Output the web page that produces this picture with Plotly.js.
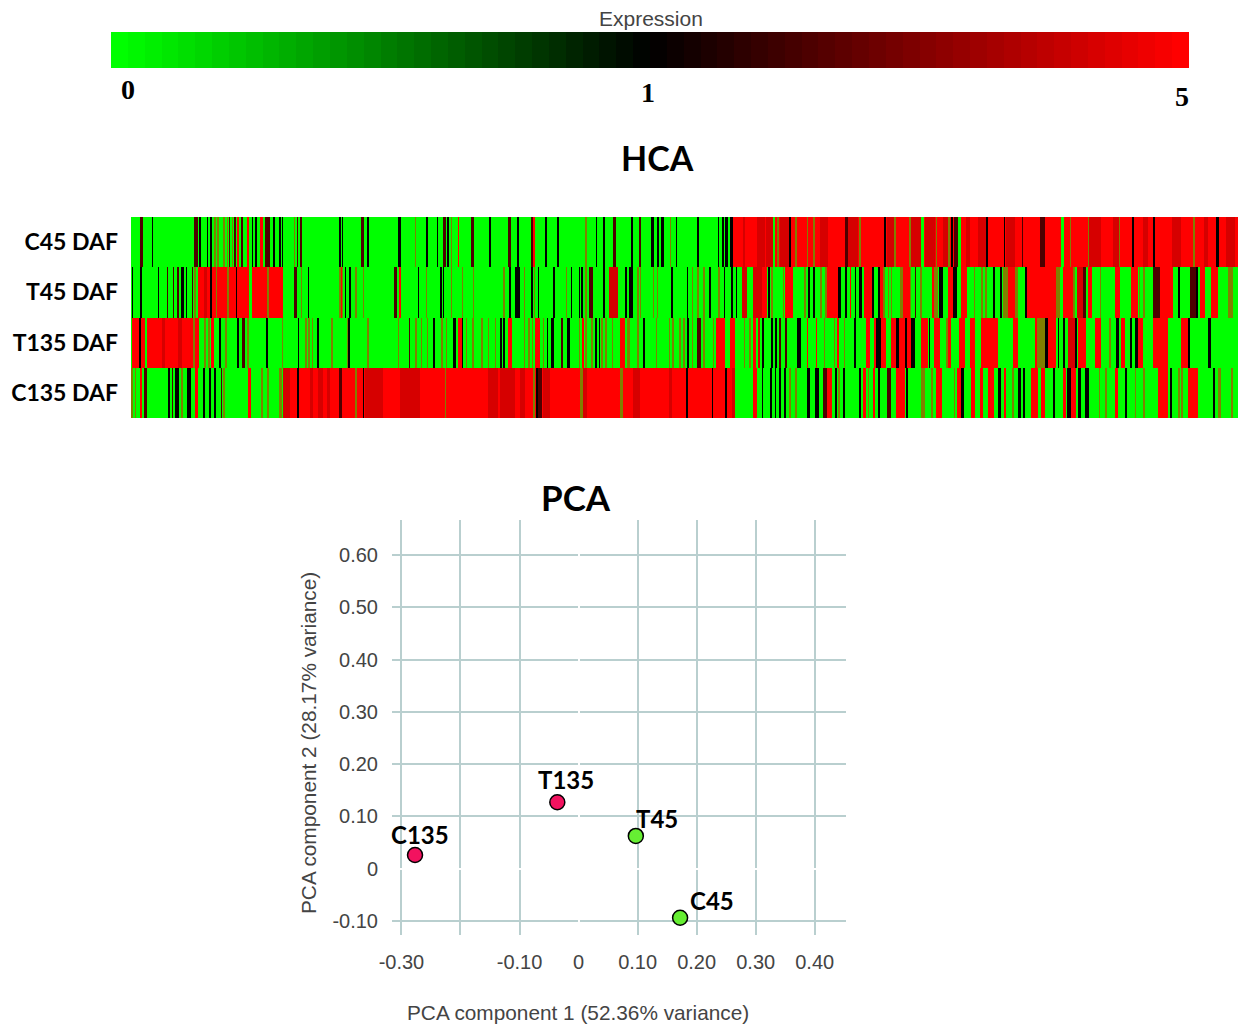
<!DOCTYPE html>
<html><head><meta charset="utf-8">
<script src="https://cdn.plot.ly/plotly-3.0.1.min.js"></script>
<style>html,body{margin:0;padding:0;background:#fff}#c{width:1238px;height:1025px}</style>
</head><body><div id="c"></div>
<script>
// expression levels: G green, K black, D near black, M dark red, R red, O olive (unresolved red/green column)
const G=-1,K=0,D=0.3,M=0.84,R=1,O=2;
const rowLabels=['C45 DAF','T45 DAF','T135 DAF','C135 DAF'];
const nGenes=1107;
// stripes [from,to,level], in thirds of a gene column, per section of the heat map
const c45A=[[30,38,D],[66,70,K],[192,203,D],[208,212,K],[230,235,K],[241,247,K],[252,258,O],[262,266,O],[280,284,O],[290,294,O],[296,300,D],[305,310,O],[312,318,D],[322,328,R],[332,338,D],[350,358,R],[365,370,K],[375,382,K],[390,398,R],[404,420,D],[430,436,K],[448,452,K],[456,460,K],[492,496,O],[500,504,D],[510,515,D],[628,632,K],[636,640,K],[694,702,D],[712,716,K],[805,813,K],[855,858,O],[888,893,K],[920,925,K],[940,948,D],[952,957,K],[962,966,O],[984,988,R],[1024,1032,D],[1078,1082,K]];
const t45A=[[6,10,K],[30,35,K],[84,88,K],[110,114,D],[128,132,D],[142,146,D],[153,163,K],[168,172,K],[185,190,D],[192,198,O],[205,460,R],[222,230,M],[240,245,K],[258,262,O],[292,298,O],[318,322,K],[358,365,G],[412,416,O],[493,502,D],[512,516,O],[533,537,K],[628,632,O],[632,636,R],[636,640,O],[645,649,K],[658,662,K],[675,680,O],[698,702,O],[792,802,D],[808,812,R],[864,868,K],[888,892,O],[930,935,K],[938,943,K],[962,966,O],[996,1000,O],[1028,1032,O]];
const t135A=[[6,28,R],[28,34,K],[34,44,R],[52,190,R],[95,105,M],[145,155,M],[190,196,O],[196,208,R],[222,228,O],[234,240,O],[244,252,R],[266,272,K],[285,290,O],[320,326,K],[336,346,D],[352,358,O],[408,414,K],[455,459,O],[503,507,K],[525,530,O],[535,540,O],[545,550,O],[560,568,K],[604,608,O],[650,655,O],[655,660,K],[712,716,O],[803,807,O],[836,840,D],[855,860,O],[872,876,O],[890,894,O],[908,916,K],[932,938,O],[948,952,O],[970,978,K],[984,996,R],[996,1000,K],[1008,1012,O],[1026,1032,O],[1054,1058,O],[1074,1078,O],[1094,1098,O]];
const c135A=[[3,10,O],[14,18,O],[30,36,R],[42,50,D],[114,120,K],[126,130,D],[136,146,K],[154,160,O],[170,184,K],[194,204,R],[220,226,K],[238,244,K],[252,258,K],[272,276,D],[278,284,O],[355,362,R],[392,398,O],[412,418,O],[448,455,O],[460,1110,R],[460,480,M],[500,506,K],[540,548,M],[564,580,M],[590,600,M],[628,636,D],[676,680,O],[698,703,K],[705,760,M],[810,870,M],[945,948,O],[1075,1105,M]];
const c45B=[[25,32,D],[52,56,K],[92,98,D],[98,106,R],[136,140,K],[172,176,K],[256,260,O],[288,292,K],[310,314,K],[338,348,D],[394,398,K],[418,424,D],[452,462,K],[472,478,K],[484,492,K],[510,514,O],[528,532,K],[592,596,K],[655,658,K],[666,672,K],[676,684,K],[690,700,K],[700,1110,R],[730,735,M],[770,795,M],[798,818,M],[820,826,G],[832,838,O],[840,868,M],[868,872,K],[885,890,O],[920,925,O],[940,945,O],[960,985,M],[1036,1045,D],[1045,1075,M],[1078,1082,O]];
const t45B=[[10,14,O],[28,32,K],[46,60,K],[72,76,O],[94,100,K],[102,106,O],[114,118,K],[160,164,K],[198,202,O],[212,216,K],[236,240,K],[242,250,K],[256,260,O],[268,278,D],[310,316,K],[328,354,M],[376,380,K],[386,392,K],[394,398,K],[412,416,O],[420,424,O],[458,462,O],[470,474,O],[512,518,K],[560,564,K],[576,580,O],[592,596,O],[610,614,O],[628,632,K],[655,660,O],[672,676,K],[692,700,K],[708,712,K],[726,740,M],[760,785,M],[785,800,R],[805,810,K],[812,820,O],[850,853,O],[855,880,R],[912,918,O],[924,930,K],[940,945,K],[960,965,O],[975,980,O],[980,1015,R],[1015,1022,K],[1036,1040,K],[1050,1054,R],[1065,1068,K],[1078,1085,K],[1092,1110,R]];
const t135B=[[0,6,K],[10,14,K],[24,36,R],[72,76,O],[84,90,O],[96,100,O],[104,120,R],[128,132,O],[140,144,K],[154,162,K],[184,190,D],[200,210,K],[236,240,O],[246,252,R],[256,260,O],[274,278,O],[284,290,K],[296,300,K],[304,310,O],[316,320,O],[336,340,O],[360,376,R],[380,390,O],[412,416,O],[428,434,K],[468,472,O],[506,510,O],[516,522,O],[538,542,O],[550,554,O],[560,566,K],[576,580,O],[592,602,D],[610,614,O],[638,642,O],[648,674,R],[690,706,R],[732,736,O],[748,752,O],[760,768,R],[774,780,M],[786,792,K],[812,818,K],[826,832,K],[838,844,D],[855,862,D],[892,902,K],[920,925,R],[948,952,R],[972,976,O],[1002,1006,O],[1012,1018,R],[1032,1036,O],[1063,1068,K],[1098,1110,R]];
const c135B=[[0,705,R],[0,45,M],[60,75,M],[100,105,O],[108,114,K],[114,126,D],[130,150,M],[240,248,O],[250,260,M],[360,368,O],[400,420,M],[508,516,M],[558,564,K],[636,640,K],[675,680,K],[695,705,M],[760,770,R],[785,790,K],[810,816,K],[824,828,K],[838,842,K],[852,858,K],[868,872,O],[884,890,O],[922,930,K],[944,956,K],[968,980,D],[980,995,R],[1005,1010,K],[1015,1020,O],[1028,1034,K],[1078,1082,K],[1088,1098,R]];
const c45C=[[0,1110,R],[47,55,K],[58,78,M],[78,84,O],[124,130,O],[130,158,M],[160,168,G],[170,200,M],[204,208,O],[225,240,M],[240,245,O],[250,256,K],[258,270,D],[270,280,G],[295,305,M],[330,355,M],[355,360,K],[408,412,K],[415,440,M],[462,466,D],[516,530,D],[578,588,G],[606,610,O],[660,664,O],[664,700,M],[734,752,M],[752,757,O],[792,797,K],[825,840,M],[855,860,K],[912,940,M],[975,980,O],[1008,1020,M],[1044,1052,K],[1075,1100,M]];
const t45C=[[0,12,R],[12,18,K],[30,35,K],[35,45,R],[45,50,O],[60,64,O],[68,72,O],[96,104,O],[104,125,R],[125,130,O],[140,145,D],[155,163,O],[192,198,R],[198,210,O],[212,226,K],[240,255,R],[256,268,K],[280,296,R],[318,322,O],[340,345,O],[352,356,O],[375,382,K],[395,402,K],[405,420,O],[420,440,R],[440,450,O],[472,476,K],[476,565,R],[565,575,O],[586,615,R],[615,622,O],[628,645,M],[645,655,D],[660,672,R],[695,700,O],[740,755,R],[790,810,R],[812,816,O],[824,830,O],[855,875,D],[875,915,R],[930,936,K],[965,985,D],[985,990,K],[995,1010,R],[1030,1050,R],[1080,1095,O]];
const t135C=[[0,5,R],[18,25,R],[25,40,K],[40,55,R],[68,85,R],[85,92,K],[92,110,R],[112,118,K],[118,130,R],[130,140,K],[160,180,R],[182,186,K],[198,215,R],[235,240,O],[240,248,R],[272,290,R],[306,322,R],[340,390,R],[436,450,R],[500,506,R],[506,515,O],[515,530,O],[530,540,K],[540,565,R],[570,574,K],[585,592,K],[600,620,M],[620,626,K],[630,655,R],[680,700,R],[722,730,O],[745,752,K],[760,772,R],[786,792,K],[800,810,K],[810,826,R],[856,900,R],[938,960,R],[960,966,K],[1020,1028,K]];
const c135C=[[0,4,O],[16,22,R],[30,36,K],[58,70,D],[85,110,R],[114,120,K],[160,172,O],[188,196,O],[205,222,R],[258,262,O],[268,280,R],[280,288,K],[310,320,R],[335,345,R],[360,378,R],[390,400,K],[408,415,R],[432,438,O],[450,460,K],[465,470,K],[490,510,R],[520,530,R],[555,560,K],[585,595,R],[598,608,K],[610,625,R],[630,640,K],[650,662,K],[692,696,O],[712,716,O],[740,750,R],[770,778,K],[800,805,O],[825,830,O],[870,900,R],[905,912,K],[930,935,O],[940,945,O],[960,990,R],[1036,1042,K],[1050,1060,O],[1090,1095,O]];
const sectionStarts=[-3,1107,2211];
const rowsStripes=[[c45A,c45B,c45C],[t45A,t45B,t45C],[t135A,t135B,t135C],[c135A,c135B,c135C]];

const pcLabels=['C135','T135','T45','C45'];
const pc1=[-0.277,-0.036,0.097,0.172];
const pc2=[0.026,0.127,0.0625,-0.094];
const pcColors=['#f2125f','#f2125f','#66ee33','#66ee33'];
const pcLabelShift=[[5,21],[9,23],[21,17],[32,17]];
const pcXTicks=[-0.3,-0.2,-0.1,0,0.1,0.2,0.3,0.4];
const pcXText=['-0.30','','-0.10','0','0.10','0.20','0.30','0.40'];
const pcYTicks=[-0.1,0,0.1,0.2,0.3,0.4,0.5,0.6];
const pcYText=['-0.10','0','0.10','0.20','0.30','0.40','0.50','0.60'];
const legendSteps=64;

const z=rowsStripes.map(sections=>{
  const row=new Array(nGenes).fill(G);
  sections.forEach((list,s)=>list.forEach(([a,b,v])=>{
    const i0=Math.max(0,Math.round((a+sectionStarts[s])/3));
    const i1=Math.min(nGenes,Math.max(i0+1,Math.round((b+sectionStarts[s])/3)));
    for(let i=i0;i<i1;i++)row[i]=v;
  }));
  return row;
});
const legendZ=[Array.from({length:legendSteps},(_,i)=>-1+2*i/(legendSteps-1))];

const W=1238,H=1025;
const dx=(a,b)=>[a/W,b/W], dy=(top,bot)=>[1-bot/H,1-top/H];
const bold='Lato, "Open Sans", sans-serif';
const gridCol='#b9cfcf', txt='#444444', sans='"Liberation Sans", Arial, sans-serif';
const scale=[[0,'#00ff00'],[1/3,'#000000'],[2/3,'#ff0000'],[5/6,'#ff0000'],[5/6,'#808000'],[1,'#808000']];
const note=(x,y,text,size,family,color,weight,angle)=>({xref:'paper',yref:'paper',x:x/W,y:1-y/H,text,showarrow:false,xanchor:'center',yanchor:'middle',textangle:angle||0,font:{size,family,color:color||'#000',weight:weight||700}});

const traces=[
 {type:'heatmap',z:legendZ,xaxis:'x',yaxis:'y',zmin:-1,zmax:1,showscale:false,hoverinfo:'skip',
  colorscale:[[0,'#00ff00'],[0.5,'#000000'],[1,'#ff0000']]},
 {type:'heatmap',z:z,y:rowLabels,xaxis:'x2',yaxis:'y2',zmin:-1,zmax:2,showscale:false,colorscale:scale,zsmooth:false},
 {type:'scatter',mode:'markers',x:pc1,y:pc2,text:pcLabels,xaxis:'x3',yaxis:'y3',cliponaxis:false,
  marker:{size:15,color:pcColors,line:{color:'#000',width:1.5}}}
];
const layout={
 width:W,height:H,margin:{l:0,r:0,t:0,b:0},paper_bgcolor:'#fff',plot_bgcolor:'#fff',showlegend:false,
 xaxis:{domain:dx(111,1189),anchor:'y',visible:false,range:[-0.5,legendSteps-0.5]},
 yaxis:{domain:dy(32,68),anchor:'x',visible:false},
 xaxis2:{domain:dx(131,1238),anchor:'y2',visible:false,range:[-0.5,nGenes-0.5]},
 yaxis2:{domain:dy(217,418),anchor:'x2',autorange:'reversed',type:'category',showgrid:false,zeroline:false,ticks:'',showline:false,
   ticklabelstandoff:12,tickfont:{family:bold,size:23,color:'#000',weight:700}},
 xaxis3:{domain:dx(392,846),anchor:'y3',range:[-0.316,0.453],tickmode:'array',tickvals:pcXTicks,ticktext:pcXText,
   showgrid:true,gridcolor:gridCol,gridwidth:2,zeroline:true,zerolinecolor:'#fff',zerolinewidth:2,showline:false,ticks:'',
   tickangle:0,tickfont:{family:sans,size:20,color:txt},ticklabelstandoff:13},
 yaxis3:{domain:dy(520,935),anchor:'x3',range:[-0.127,0.667],tickmode:'array',tickvals:pcYTicks,ticktext:pcYText,
   showgrid:true,gridcolor:gridCol,gridwidth:2,zeroline:true,zerolinecolor:'#fff',zerolinewidth:2,showline:false,ticks:'',
   tickfont:{family:sans,size:20,color:txt},ticklabelstandoff:13},
 annotations:[
  note(651,18,'Expression',21,sans,txt,400),
  note(128,90,'0',28,'"Liberation Serif", serif'),
  note(648,93,'1',28,'"Liberation Serif", serif'),
  note(1182,97,'5',28,'"Liberation Serif", serif'),
  note(657,157,'HCA',34,bold),
  note(576,497,'PCA',35,bold),
  note(578,1012,'PCA component 1 (52.36% variance)',20.8,sans,txt,400),
  note(308,743,'PCA component 2 (28.17% variance)',20.8,sans,txt,400,-90)
 ].concat(pcLabels.map((t,i)=>({
  xref:'x3',yref:'y3',x:pc1[i],y:pc2[i],text:t,showarrow:false,xshift:pcLabelShift[i][0],yshift:pcLabelShift[i][1],
  xanchor:'center',yanchor:'middle',font:{family:bold,size:24,color:'#000',weight:700}})))
};
Plotly.newPlot('c',traces,layout,{displayModeBar:false,staticPlot:true});
</script></body></html>
